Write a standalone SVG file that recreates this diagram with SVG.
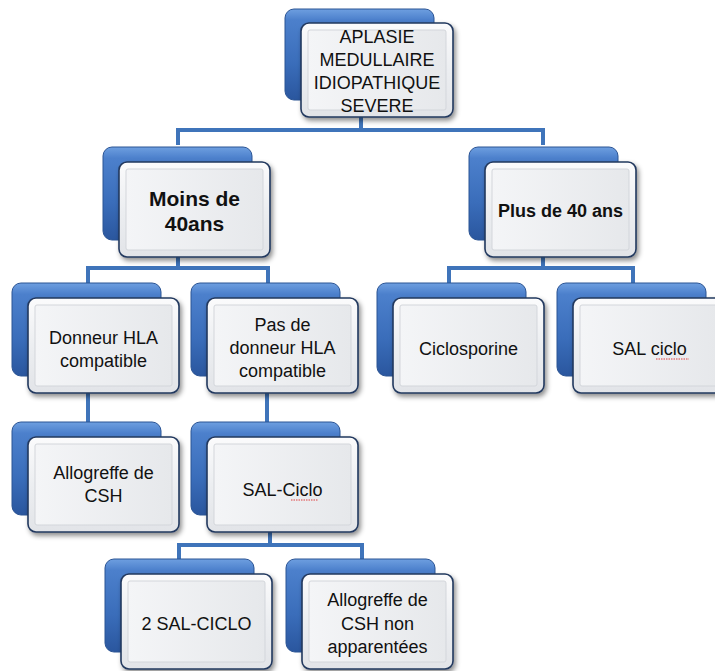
<svg xmlns="http://www.w3.org/2000/svg" width="715" height="671" viewBox="0 0 715 671">
<defs>
<linearGradient id="gBack" x1="0" y1="0" x2="0" y2="1">
<stop offset="0" stop-color="#6E9FE0"/>
<stop offset="0.12" stop-color="#4C80CC"/>
<stop offset="0.6" stop-color="#3A6DBA"/>
<stop offset="1" stop-color="#2A569E"/>
</linearGradient>
<linearGradient id="gFront" x1="0" y1="0" x2="0" y2="1">
<stop offset="0" stop-color="#FBFBFC"/>
<stop offset="0.5" stop-color="#ECEEF1"/>
<stop offset="1" stop-color="#E2E4E8"/>
</linearGradient>
<linearGradient id="gInner" x1="0" y1="0" x2="1" y2="0">
<stop offset="0" stop-color="#F4F5F7"/>
<stop offset="1" stop-color="#E6E8EB"/>
</linearGradient>
<filter id="shadow" x="-10%" y="-10%" width="125%" height="130%">
<feDropShadow dx="2" dy="3" stdDeviation="2.5" flood-color="#000" flood-opacity="0.45"/>
</filter>
</defs>
<style>
.back{fill:url(#gBack);stroke:#2B5494;stroke-width:1}
.front{fill:url(#gFront);stroke:#22395E;stroke-width:1.6;filter:url(#shadow)}
.bevel{fill:url(#gInner);stroke:#D3D6DB;stroke-width:1}
.conn{fill:none;stroke:#3F74BA;stroke-width:4}
text{font-family:"Liberation Sans",Arial,sans-serif;font-size:18px;fill:#111;text-anchor:middle}
.b{font-weight:bold}
.spell{fill:none;stroke:#E04040;stroke-width:1;stroke-dasharray:1.5 1}
</style>

<g id="connectors">
<path class="conn" d="M361 115 V130 M178 145 V130 H543 V145"/>
<path class="conn" d="M178 255 V268 M88 283 V268 H268 V283"/>
<path class="conn" d="M543 255 V268 M449 283 V268 H633 V283"/>
<path class="conn" d="M88 390 V423"/>
<path class="conn" d="M267 390 V423"/>
<path class="conn" d="M270 530 V545 M179 560 V545 H362 V560"/>
</g>

<g id="n-top" transform="translate(301,23)">
<rect class="back" x="-16" y="-14" width="149" height="91" rx="9"/>
<rect class="front" x="0" y="0" width="152" height="94" rx="8"/>
<rect class="bevel" x="7" y="7" width="138" height="80" rx="2"/>
<text x="76" y="19.5">APLASIE</text>
<text x="76" y="42.5">MEDULLAIRE</text>
<text x="76" y="65.5">IDIOPATHIQUE</text>
<text x="76" y="88.5">SEVERE</text>
</g>

<g id="n-moins" transform="translate(119,162)">
<rect class="back" x="-16" y="-15" width="149" height="93" rx="9"/>
<rect class="front" x="0" y="0" width="151" height="95" rx="8"/>
<rect class="bevel" x="7" y="7" width="137" height="81" rx="2"/>
<text class="b" x="75.5" y="43.5" style="font-size:21px">Moins de</text>
<text class="b" x="75.5" y="68.5" style="font-size:21px">40ans</text>
</g>

<g id="n-plus" transform="translate(485,162)">
<rect class="back" x="-16" y="-15" width="149" height="93" rx="9"/>
<rect class="front" x="0" y="0" width="151" height="95" rx="8"/>
<rect class="bevel" x="7" y="7" width="137" height="81" rx="2"/>
<text class="b" x="75.5" y="54.5">Plus de 40 ans</text>
</g>

<g id="n-donneur" transform="translate(28,298)">
<rect class="back" x="-16" y="-15" width="149" height="93" rx="9"/>
<rect class="front" x="0" y="0" width="151" height="95" rx="8"/>
<rect class="bevel" x="7" y="7" width="137" height="81" rx="2"/>
<text x="75.5" y="45.5">Donneur HLA</text>
<text x="75.5" y="68.5">compatible</text>
</g>

<g id="n-pas" transform="translate(207,298)">
<rect class="back" x="-16" y="-15" width="149" height="93" rx="9"/>
<rect class="front" x="0" y="0" width="151" height="95" rx="8"/>
<rect class="bevel" x="7" y="7" width="137" height="81" rx="2"/>
<text x="75.5" y="33">Pas de</text>
<text x="75.5" y="56">donneur HLA</text>
<text x="75.5" y="79">compatible</text>
</g>

<g id="n-ciclo" transform="translate(393,298)">
<rect class="back" x="-16" y="-15" width="149" height="93" rx="9"/>
<rect class="front" x="0" y="0" width="151" height="95" rx="8"/>
<rect class="bevel" x="7" y="7" width="137" height="81" rx="2"/>
<text x="75.5" y="57">Ciclosporine</text>
</g>

<g id="n-salciclo" transform="translate(573,298)">
<rect class="back" x="-16" y="-15" width="149" height="93" rx="9"/>
<rect class="front" x="0" y="0" width="151" height="95" rx="8"/>
<rect class="bevel" x="7" y="7" width="137" height="81" rx="2"/>
<text x="76.5" y="57">SAL ciclo</text>
<path class="spell" d="M83 61 H116"/>
</g>

<g id="n-allo" transform="translate(28,437)">
<rect class="back" x="-16" y="-15" width="149" height="93" rx="9"/>
<rect class="front" x="0" y="0" width="151" height="95" rx="8"/>
<rect class="bevel" x="7" y="7" width="137" height="81" rx="2"/>
<text x="75.5" y="41.5">Allogreffe de</text>
<text x="75.5" y="64.5">CSH</text>
</g>

<g id="n-salciclo2" transform="translate(207,437)">
<rect class="back" x="-16" y="-15" width="149" height="93" rx="9"/>
<rect class="front" x="0" y="0" width="151" height="95" rx="8"/>
<rect class="bevel" x="7" y="7" width="137" height="81" rx="2"/>
<text x="75.5" y="59">SAL-Ciclo</text>
<path class="spell" d="M84 63 H111"/>
</g>

<g id="n-2sal" transform="translate(121,574)">
<rect class="back" x="-16" y="-15" width="149" height="93" rx="9"/>
<rect class="front" x="0" y="0" width="151" height="95" rx="8"/>
<rect class="bevel" x="7" y="7" width="137" height="81" rx="2"/>
<text x="75.5" y="56">2 SAL-CICLO</text>
</g>

<g id="n-allonon" transform="translate(302,574)">
<rect class="back" x="-16" y="-15" width="149" height="93" rx="9"/>
<rect class="front" x="0" y="0" width="151" height="95" rx="8"/>
<rect class="bevel" x="7" y="7" width="137" height="81" rx="2"/>
<text x="75.5" y="32">Allogreffe de</text>
<text x="75.5" y="55.5">CSH non</text>
<text x="75.5" y="79">apparentées</text>
</g>
</svg>
